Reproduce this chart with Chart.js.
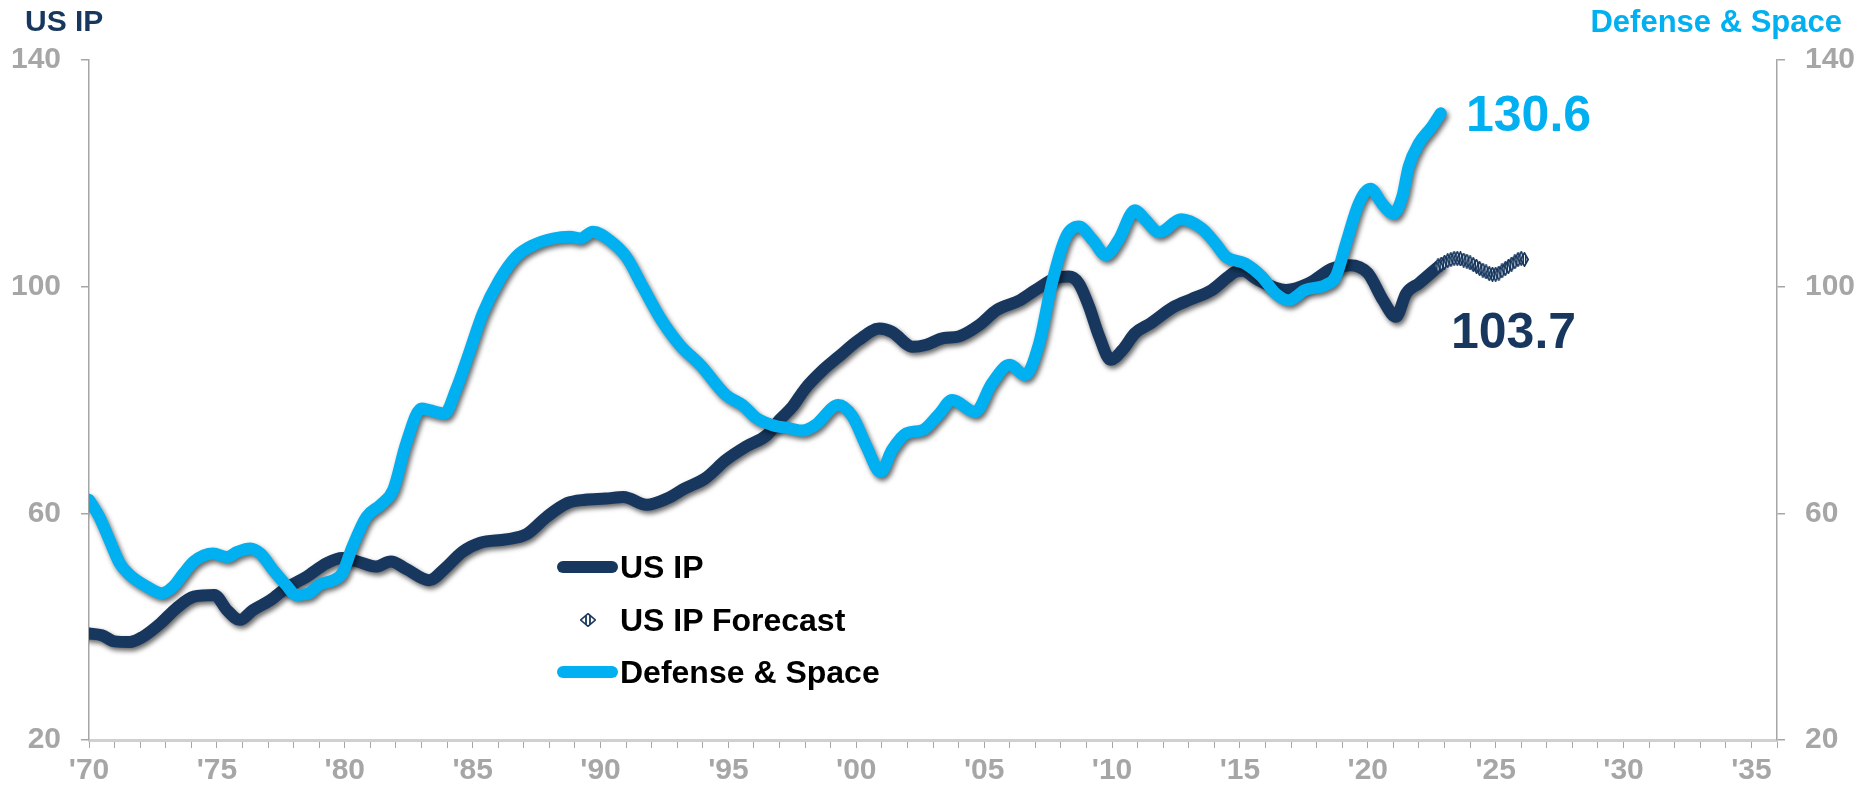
<!DOCTYPE html>
<html>
<head>
<meta charset="utf-8">
<script src="https://cdn.jsdelivr.net/npm/chart.js@4.4.0/dist/chart.umd.min.js"></script>
<style>
  body { margin: 0; background: #fff; }
  #wrap { position: relative; width: 1868px; height: 794px; font-family: "Liberation Sans", Arial, sans-serif; font-weight: bold; }
  #wrap canvas { position: absolute; left: 0; top: 0; }
  .txt { position: absolute; white-space: nowrap; line-height: 1; transform: translateY(-50%); }
  .swatch { position: absolute; width: 61px; height: 12px; border-radius: 6px; }
</style>
</head>
<body>
<div id="wrap">
  <canvas id="chart" width="1868" height="794"></canvas>
  <div class="txt" style="left:25px; top:21px; font-size:30px; color:#17375e;">US IP</div>
  <div class="txt" style="right:26px; top:21px; font-size:31px; color:#00b0f0;">Defense &amp; Space</div>
  <div class="txt" id="dsLast" style="left:1466px; top:114px; font-size:50px; color:#00b0f0;"></div>
  <div class="txt" id="ipLast" style="left:1451px; top:331px; font-size:50px; color:#17375e;"></div>

  <div class="swatch" style="left:557px; top:561px; background:#17375e;"></div>
  <div class="txt" style="left:620px; top:567px; font-size:32px; color:#000;">US IP</div>
  <svg style="position:absolute; left:580px; top:613px;" width="16" height="14" viewBox="0 0 16 14">
    <defs><clipPath id="dm"><path d="M8 0.7 L15.3 7 L8 13.3 L0.7 7 Z"/></clipPath></defs>
    <path d="M8 0.7 L15.3 7 L8 13.3 L0.7 7 Z" fill="#fff"/>
    <g clip-path="url(#dm)" stroke="#17375e" stroke-width="1.8">
      <line x1="6" y1="0" x2="6" y2="14"/><line x1="10" y1="0" x2="10" y2="14"/>
    </g>
    <path d="M8 0.7 L15.3 7 L8 13.3 L0.7 7 Z" fill="none" stroke="#17375e" stroke-width="1.6"/>
  </svg>
  <div class="txt" style="left:620px; top:620px; font-size:32px; color:#000;">US IP Forecast</div>
  <div class="swatch" style="left:557px; top:666px; background:#00b0f0;"></div>
  <div class="txt" style="left:620px; top:672px; font-size:32px; color:#000;">Defense &amp; Space</div>
</div>

<script>
// US IP (index)
const ipYears = [
  1970.0, 1970.5, 1971.0, 1971.6, 1972.1, 1972.8, 1973.4, 1974.1, 1974.9, 1975.4,
  1975.9, 1976.4, 1977.1, 1977.7, 1978.5, 1979.3, 1979.9, 1980.5, 1981.2, 1981.8,
  1982.4, 1983.3, 1983.9, 1984.6, 1985.3, 1986.3, 1987.1, 1987.9, 1988.7, 1989.4,
  1990.2, 1990.9, 1991.8, 1992.6, 1993.3, 1994.1, 1994.9, 1995.7, 1996.5, 1997.0,
  1997.5, 1998.0, 1998.7, 1999.3, 2000.1, 2000.9, 2001.4, 2002.2, 2002.7, 2003.4,
  2004.0, 2004.8, 2005.5, 2006.4, 2007.0, 2007.8, 2008.3, 2008.7, 2009.1, 2009.5,
  2009.95, 2010.4, 2010.9, 2011.5, 2012.4, 2013.1, 2013.9, 2014.5, 2014.8, 2015.1,
  2015.7, 2016.8, 2017.7, 2018.6, 2019.3, 2020.0, 2020.6, 2021.1, 2021.5, 2022.0,
  2022.8
];
const ipValues = [
  38.8, 38.5, 37.4, 37.3, 38.2, 40.6, 43.2, 45.3, 45.6, 42.9,
  41.2, 42.9, 44.7, 46.8, 48.8, 51.2, 52.1, 51.5, 50.6, 51.5,
  50.2, 48.2, 50.2, 53.2, 54.8, 55.4, 56.3, 59.4, 61.8, 62.4,
  62.6, 62.9, 61.5, 62.6, 64.4, 66.2, 69.4, 71.8, 73.8, 76.5,
  78.8, 82.0, 85.3, 87.6, 90.6, 92.6, 92.0, 89.4, 89.7, 90.9,
  91.2, 93.2, 95.9, 97.6, 99.4, 101.5, 101.8, 100.6, 96.5, 91.2,
  87.1, 88.8, 91.8, 93.5, 96.4, 97.8, 99.4, 101.6, 102.6, 102.8,
  101.2, 99.4, 100.6, 103.2, 103.8, 102.4, 97.6, 94.7, 98.8, 100.6,
  103.7
];

// US IP forecast
const fcYears = [
  2022.75, 2022.875, 2023.0, 2023.125, 2023.25, 2023.375, 2023.5, 2023.625, 2023.75, 2023.875,
  2024.0, 2024.125, 2024.25, 2024.375, 2024.5, 2024.625, 2024.75, 2024.875, 2025.0, 2025.125,
  2025.25, 2025.375, 2025.5, 2025.625, 2025.75, 2025.875, 2026.0, 2026.125
];
const fcValues = [
  103.7, 104.0, 104.3, 104.6, 104.8, 105.0, 105.0, 104.9, 104.7, 104.5,
  104.2, 103.9, 103.6, 103.2, 102.9, 102.6, 102.3, 102.2, 102.2, 102.4,
  102.8, 103.2, 103.6, 104.0, 104.4, 104.8, 105.0, 104.8
];

// Defense & Space
const dsYears = [
  1970.0, 1970.4, 1970.8, 1971.2, 1971.6, 1972.25, 1972.85, 1973.3, 1973.7, 1974.1,
  1974.85, 1975.4, 1975.8, 1976.3, 1976.7, 1977.2, 1977.7, 1978.1, 1978.6, 1979.0,
  1979.55, 1979.9, 1980.3, 1980.85, 1981.4, 1981.9, 1982.4, 1983.0, 1983.3, 1983.9,
  1984.35, 1984.9, 1985.4, 1986.05, 1986.7, 1987.35, 1988.15, 1988.8, 1989.2, 1989.7,
  1990.35, 1991.0, 1991.65, 1992.3, 1993.1, 1993.9, 1994.9, 1995.55, 1996.1, 1996.7,
  1997.4, 1997.9, 1998.4, 1999.3, 1999.85, 2000.4, 2000.95, 2001.4, 2001.95, 2002.6,
  2003.25, 2003.75, 2004.65, 2005.3, 2006.0, 2006.6, 2007.15, 2007.65, 2008.2, 2008.7,
  2009.25, 2009.75, 2010.25, 2010.9, 2011.3, 2011.85, 2012.7, 2013.5, 2014.05, 2014.45,
  2015.2, 2015.85, 2016.4, 2016.9, 2017.55, 2018.35, 2018.75, 2019.15, 2019.65, 2020.1,
  2020.55, 2021.0, 2021.35, 2021.6, 2022.0, 2022.5, 2022.85
];
const dsValues = [
  62.4, 59.4, 55.3, 51.2, 49.1, 47.1, 45.9, 47.1, 49.4, 51.5,
  52.9, 52.3, 53.2, 53.8, 52.9, 50.0, 47.4, 45.6, 45.9, 47.4,
  48.2, 49.4, 54.1, 59.4, 61.5, 64.2, 72.3, 78.5, 78.2, 77.6,
  81.8, 88.8, 95.3, 101.2, 105.3, 107.3, 108.5, 108.8, 108.5, 109.7,
  108.2, 105.3, 100.0, 94.7, 89.7, 86.2, 80.9, 79.1, 76.8, 75.6,
  75.0, 74.6, 75.6, 79.1, 77.1, 71.8, 67.3, 71.2, 74.1, 74.7,
  77.6, 80.0, 77.9, 82.9, 86.2, 84.4, 90.0, 100.6, 108.8, 110.6,
  108.2, 105.6, 108.2, 113.5, 111.8, 109.6, 111.9, 110.3, 107.6, 105.3,
  104.1, 101.8, 98.8, 97.6, 99.4, 100.3, 101.8, 107.6, 114.7, 117.3,
  114.7, 112.9, 115.9, 121.2, 125.3, 128.2, 130.6
];

const xLabelYears = [1970, 1975, 1980, 1985, 1990, 1995, 2000, 2005, 2010, 2015, 2020, 2025, 2030, 2035];
const yTicks = [20, 60, 100, 140];

const navy = '#17375e';
const sky = '#00b0f0';
const grey = '#a6a6a6';

document.getElementById('dsLast').textContent = dsValues[dsValues.length - 1].toFixed(1);
document.getElementById('ipLast').textContent = ipValues[ipValues.length - 1].toFixed(1);

function toPoints(xs, ys) {
  return xs.map((x, i) => ({ x: x, y: ys[i] }));
}

// hatched diamond used as the forecast marker
function hatchDiamond(w, h) {
  const c = document.createElement('canvas');
  c.width = w; c.height = h;
  const g = c.getContext('2d');
  const path = () => {
    g.beginPath();
    g.moveTo(w / 2, 0.8); g.lineTo(w - 0.8, h / 2);
    g.lineTo(w / 2, h - 0.8); g.lineTo(0.8, h / 2);
    g.closePath();
  };
  path(); g.fillStyle = '#fff'; g.fill();
  g.save(); path(); g.clip();
  g.strokeStyle = navy; g.lineWidth = 1.6;
  [w * 0.36, w * 0.64].forEach(x => { g.beginPath(); g.moveTo(x, 0); g.lineTo(x, h); g.stroke(); });
  g.restore();
  path(); g.strokeStyle = navy; g.lineWidth = 1.6; g.stroke();
  return c;
}

const lineShadow = {
  id: 'lineShadow',
  beforeDatasetDraw(chart, args) {
    if (!chart.data.datasets[args.index].shadow) return;
    const ctx = chart.ctx;
    ctx.save();
    ctx.shadowColor = 'rgba(0,0,0,0.6)';
    ctx.shadowBlur = 5;
    ctx.shadowOffsetX = 2;
    ctx.shadowOffsetY = 3;
  },
  afterDatasetDraw(chart, args) {
    if (chart.data.datasets[args.index].shadow) chart.ctx.restore();
  }
};

Chart.defaults.font.family = '"Liberation Sans", Arial, sans-serif';

const tickFont = { size: 30, weight: 'bold' };

function yAxis(pos, width) {
  return {
    position: pos,
    min: 20, max: 140,
    afterBuildTicks: s => { s.ticks = yTicks.map(v => ({ value: v })); },
    afterFit: s => { s.width = width; s.paddingTop = 0; s.paddingBottom = 0; },
    ticks: { color: grey, font: tickFont, padding: 20 },
    grid: { drawOnChartArea: false, tickLength: 8, color: grey, lineWidth: 1.5 },
    border: { color: grey, width: 1.5 }
  };
}

new Chart(document.getElementById('chart').getContext('2d'), {
  type: 'line',
  data: {
    datasets: [
      {
        label: 'Defense & Space',
        data: toPoints(dsYears, dsValues),
        borderColor: sky,
        borderWidth: 12,
        pointRadius: 0,
        cubicInterpolationMode: 'monotone',
        borderCapStyle: 'round',
        borderJoinStyle: 'round',
        shadow: true,
        order: 0
      },
      {
        label: 'US IP Forecast',
        data: toPoints(fcYears, fcValues),
        showLine: false,
        pointStyle: hatchDiamond(9, 15),
        pointRadius: 5,
        order: 1
      },
      {
        label: 'US IP',
        data: toPoints(ipYears, ipValues),
        borderColor: navy,
        borderWidth: 12,
        pointRadius: 0,
        cubicInterpolationMode: 'monotone',
        borderCapStyle: 'round',
        borderJoinStyle: 'round',
        shadow: true,
        order: 2
      }
    ]
  },
  options: {
    responsive: false,
    animation: false,
    events: [],
    layout: { padding: { top: 60, left: 0, right: 0, bottom: 0 } },
    plugins: { legend: { display: false }, tooltip: { enabled: false } },
    scales: {
      x: {
        type: 'linear',
        min: 1970, max: 2036,
        afterBuildTicks: s => {
          const t = [];
          for (let y = 1970; y <= 2036; y++) t.push({ value: y });
          s.ticks = t;
        },
        afterFit: s => { s.height = 54; s.paddingLeft = 0; s.paddingRight = 0; },
        ticks: {
          color: grey, font: tickFont, padding: 5, autoSkip: false, maxRotation: 0,
          callback: v => xLabelYears.includes(v) ? "'" + String(v).slice(2) : ''
        },
        grid: { drawOnChartArea: false, tickLength: 8, color: grey, lineWidth: 1 },
        border: { color: '#d0d0d0', width: 3 }
      },
      y: yAxis('left', 89),
      y2: yAxis('right', 91)
    }
  },
  plugins: [lineShadow]
});
</script>
</body>
</html>
